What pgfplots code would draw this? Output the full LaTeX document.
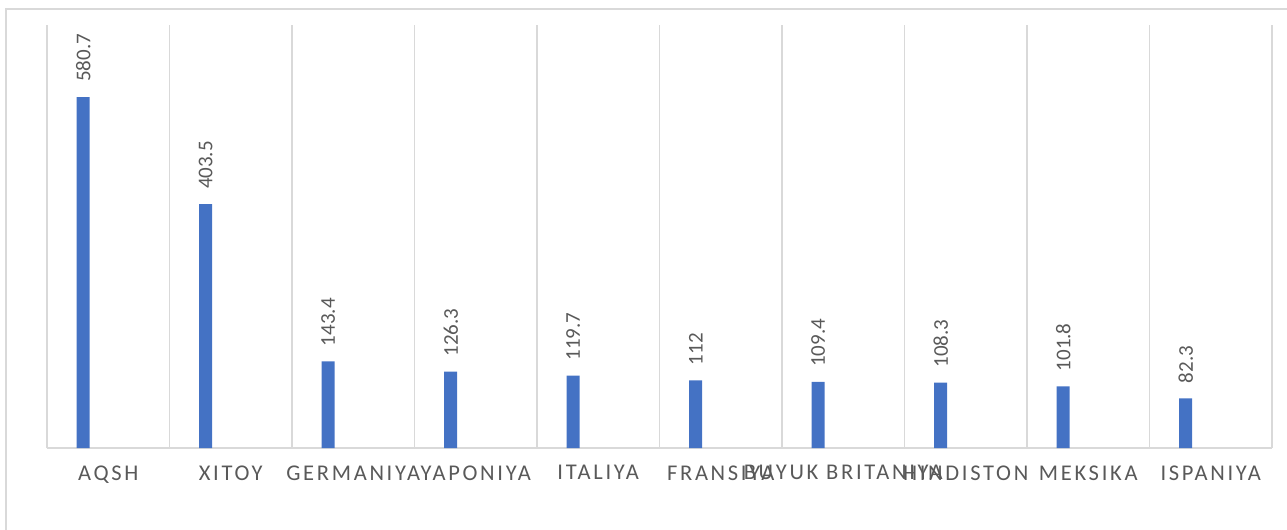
\documentclass[border=0pt]{standalone}
\usepackage{fontspec}
\setmainfont{Carlito}
\usepackage{pgfplots}
\pgfplotsset{compat=1.18}
\definecolor{barblue}{HTML}{4472C4}
\definecolor{gridgray}{HTML}{D9D9D9}
\definecolor{txtgray}{HTML}{595959}
\begin{document}
\begin{tikzpicture}
\useasboundingbox (0,0) rectangle (1287bp,530bp);
\begin{scope}
\clip (0,0) rectangle (1287bp,530bp);
\draw[gridgray, line width=1.5bp] (6bp,-20bp) rectangle (1320bp,521bp);
\end{scope}
\begin{axis}[
  at={(47bp,82bp)}, anchor=south west,
  scale only axis, width=1225bp, height=423bp,
  xmin=-0.5, xmax=9.5, ymin=0, ymax=700,
  axis x line=bottom, axis y line=none,
  axis line style={gridgray, line width=1.5bp, -},
  xtick={0,...,9},
  xticklabels={AQSH,XITOY,GERMANIYA,YAPONIYA,ITALIYA,FRANSIYA,BUYUK BRITANIYA,HINDISTON,MEKSIKA,ISPANIYA},
  xticklabel style={font=\fontsize{22.5bp}{26bp}\selectfont\addfontfeature{LetterSpace=12}, text=txtgray, yshift=-14bp},
  major tick length=0pt,
  minor xtick={-0.5,0.5,...,9.5},
  minor tick length=0pt,
  xminorgrids, minor grid style={gridgray, line width=1.5bp},
  ytick=\empty,
  ybar, bar width=13bp, bar shift=-25bp,
  nodes near coords,
  /pgf/number format/assume math mode=true,
  every node near coord/.append style={yshift=15bp, rotate=90, anchor=west, inner sep=0pt, font=\fontsize{21bp}{25bp}\selectfont, text=txtgray},
  clip=false,
]
\addplot[fill=barblue, draw=none] coordinates {
(0,580.7) (1,403.5) (2,143.4) (3,126.3) (4,119.7) (5,112) (6,109.4) (7,108.3) (8,101.8) (9,82.3)};
\end{axis}
\end{tikzpicture}
\end{document}
